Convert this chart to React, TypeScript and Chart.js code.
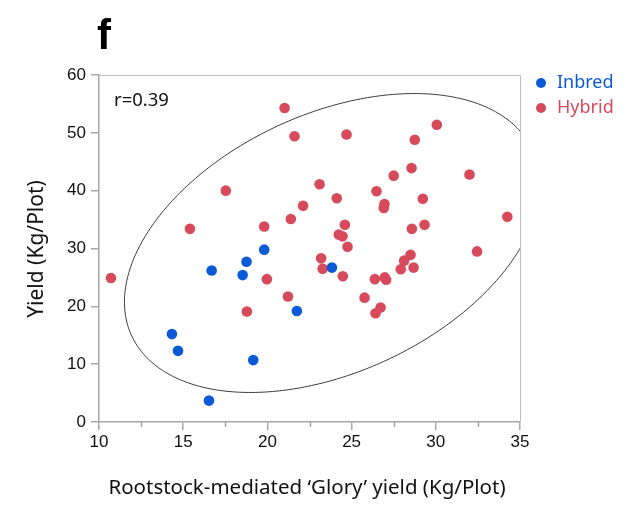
import React, { useEffect, useRef } from "react";
import { Chart, registerables } from "chart.js";

Chart.register(...registerables);

const inbredX = [14.33, 14.69, 16.53, 16.69, 18.53, 18.76, 19.81, 21.75, 19.16, 23.83];
const inbredY = [15.2, 12.3, 3.7, 26.2, 25.4, 27.7, 29.8, 19.2, 10.7, 26.7];

const hybridX = [
  10.71, 15.4, 17.53, 18.78, 19.81, 19.97, 21.02, 21.61, 21.22, 21.39, 22.12, 24.7, 23.1, 24.12,
  24.6, 24.24, 24.46, 24.76, 26.48, 26.95, 26.91, 27.5, 28.56, 28.75, 30.06, 29.23, 28.58, 29.33,
  32.0, 34.25, 32.45, 23.19, 23.28, 24.48, 25.77, 26.38, 26.97, 27.05, 26.72, 26.42, 27.92, 28.12,
  28.5, 28.68,
];
const hybridY = [
  24.9, 33.4, 40.0, 19.1, 33.8, 24.7, 54.3, 49.4, 21.7, 35.1, 37.4, 49.7, 41.1, 38.7, 34.1, 32.4,
  32.1, 30.3, 39.9, 37.7, 37.0, 42.6, 43.9, 48.8, 51.4, 38.6, 33.4, 34.1, 42.8, 35.5, 29.5, 28.3,
  26.5, 25.2, 21.5, 24.7, 25.0, 24.6, 19.8, 18.8, 26.4, 27.9, 28.9, 26.7,
];

const seriesLabels = ["Inbred", "Hybrid"];
const seriesColors = ["#0a5ad8", "#d64a5b"];

const xTicks = [10, 15, 20, 25, 30, 35];
const xMinorTicks = [12.5, 17.5, 22.5, 27.5, 32.5];
const yTicks = [0, 10, 20, 30, 40, 50, 60];

// Confidence ellipse (data units)
const ellipseCenter = [23.85, 30.95];
const ellipseSemiMajor = 26.4;
const ellipseSemiMinor = 11.1;
const ellipseAngleDeg = 77.0;

const panelLetter = "f";
const rText = "r=0.39";
const xTitle = "Rootstock-mediated \u2018Glory\u2019 yield (Kg/Plot)";
const yTitle = "Yield (Kg/Plot)";

const AXIS_COLOR = "#a6a6a6";
const TEXT_FONT = "'Noto Sans', 'Open Sans', sans-serif";
const TICK_FONT = "'Liberation Sans', Arial, sans-serif";

const decorPlugin = {
  id: "decor",
  beforeDatasetsDraw(chart: any) {
    const { ctx, chartArea, scales } = chart;
    const xs = scales.x;
    const ys = scales.y;
    ctx.save();
    // frame (top & right)
    ctx.strokeStyle = "#bdbdbd";
    ctx.lineWidth = 1;
    ctx.beginPath();
    ctx.moveTo(chartArea.left, chartArea.top + 0.5);
    ctx.lineTo(chartArea.right + 0.5, chartArea.top + 0.5);
    ctx.lineTo(chartArea.right + 0.5, chartArea.bottom);
    ctx.stroke();
    // minor x ticks
    ctx.strokeStyle = AXIS_COLOR;
    ctx.lineWidth = 1.5;
    ctx.beginPath();
    for (const v of xMinorTicks) {
      const px = Math.round(xs.getPixelForValue(v)) + 0.5;
      ctx.moveTo(px, chartArea.bottom);
      ctx.lineTo(px, chartArea.bottom + 5);
    }
    ctx.stroke();
    // ellipse
    ctx.beginPath();
    ctx.rect(chartArea.left, chartArea.top, chartArea.right - chartArea.left, chartArea.bottom - chartArea.top);
    ctx.clip();
    const th = (ellipseAngleDeg * Math.PI) / 180;
    ctx.strokeStyle = "#3a3a3a";
    ctx.lineWidth = 1;
    ctx.beginPath();
    const N = 360;
    for (let i = 0; i <= N; i++) {
      const t = (i / N) * Math.PI * 2;
      const a = ellipseSemiMajor * Math.cos(t);
      const b = ellipseSemiMinor * Math.sin(t);
      const dx = a * Math.cos(th) - b * Math.sin(th);
      const dy = a * Math.sin(th) + b * Math.cos(th);
      const px = xs.getPixelForValue(ellipseCenter[0] + dx);
      const py = ys.getPixelForValue(ellipseCenter[1] + dy);
      if (i === 0) ctx.moveTo(px, py);
      else ctx.lineTo(px, py);
    }
    ctx.closePath();
    ctx.stroke();
    ctx.restore();
  },
  afterDraw(chart: any) {
    const { ctx, chartArea } = chart;
    ctx.save();
    // panel letter
    ctx.fillStyle = "#000";
    ctx.font = "bold 42px 'Liberation Sans', Arial, sans-serif";
    ctx.textAlign = "left";
    ctx.textBaseline = "alphabetic";
    ctx.fillText(panelLetter, 97, 49);
    // r text
    ctx.font = `18.5px ${TEXT_FONT}`;
    ctx.textBaseline = "middle";
    ctx.fillStyle = "#111";
    ctx.fillText(rText, chartArea.left + 15, 101);
    // axis titles
    ctx.font = `20.5px ${TEXT_FONT}`;
    ctx.textAlign = "center";
    ctx.textBaseline = "alphabetic";
    ctx.fillStyle = "#111";
    ctx.fillText(xTitle, 307, 494);
    ctx.save();
    ctx.font = `21px ${TEXT_FONT}`;
    ctx.textBaseline = "middle";
    ctx.translate(37, 249);
    ctx.rotate(-Math.PI / 2);
    ctx.fillText(yTitle, 0, 0);
    ctx.restore();
    // legend
    ctx.textAlign = "left";
    ctx.textBaseline = "middle";
    ctx.font = `18px ${TEXT_FONT}`;
    chart.data.datasets.forEach((ds: any, i: number) => {
      const cy = 83 + i * 25;
      ctx.fillStyle = ds.backgroundColor;
      ctx.beginPath();
      ctx.arc(541, cy, 5, 0, Math.PI * 2);
      ctx.fill();
      ctx.fillText(ds.label, 557, cy);
    });
    ctx.restore();
  },
};

export default function App() {
  const ref = useRef<HTMLCanvasElement | null>(null);
  useEffect(() => {
    if (!ref.current) return;
    const datasets = [
      {
        label: seriesLabels[0],
        data: inbredX.map((x, i) => ({ x, y: inbredY[i] })),
        backgroundColor: seriesColors[0],
        borderColor: seriesColors[0],
        pointRadius: 5.3,
        borderWidth: 0,
      },
      {
        label: seriesLabels[1],
        data: hybridX.map((x, i) => ({ x, y: hybridY[i] })),
        backgroundColor: seriesColors[1],
        borderColor: seriesColors[1],
        pointRadius: 5.3,
        borderWidth: 0,
      },
    ];
    const chart = new Chart(ref.current, {
      type: "scatter",
      data: { datasets },
      options: {
        animation: false,
        responsive: false,
        maintainAspectRatio: false,
        layout: { padding: { left: 0, right: 121, top: 75, bottom: 0 } },
        plugins: { legend: { display: false }, tooltip: { enabled: false }, title: { display: false } },
        scales: {
          x: {
            type: "linear",
            min: 10,
            max: 35,
            afterBuildTicks: (s: any) => {
              s.ticks = xTicks.map((v) => ({ value: v }));
            },
            afterFit: (s: any) => {
              s.height = 90;
            },
            grid: {
              display: true,
              drawOnChartArea: false,
              drawTicks: true,
              tickLength: 8,
              color: AXIS_COLOR,
              lineWidth: 1.5,
            },
            border: { display: true, color: AXIS_COLOR, width: 1.5 },
            ticks: {
              autoSkip: false,
              maxRotation: 0,
              padding: 2,
              color: "#111",
              font: { size: 17, family: TICK_FONT },
            },
          },
          y: {
            type: "linear",
            min: 0,
            max: 60,
            afterBuildTicks: (s: any) => {
              s.ticks = yTicks.map((v) => ({ value: v }));
            },
            afterFit: (s: any) => {
              s.width = 99;
            },
            grid: {
              display: true,
              drawOnChartArea: false,
              drawTicks: true,
              tickLength: 8,
              color: AXIS_COLOR,
              lineWidth: 1.5,
            },
            border: { display: true, color: AXIS_COLOR, width: 1.5 },
            ticks: {
              autoSkip: false,
              padding: 5,
              color: "#111",
              font: { size: 17, family: TICK_FONT },
            },
          },
        },
      },
      plugins: [decorPlugin],
    } as any);
    return () => chart.destroy();
  }, []);
  return (
    <div style={{ position: "fixed", left: 0, top: 0, width: 641, height: 512, background: "#fff" }}>
      <canvas ref={ref} width={641} height={512} style={{ width: 641, height: 512 }} />
    </div>
  );
}
